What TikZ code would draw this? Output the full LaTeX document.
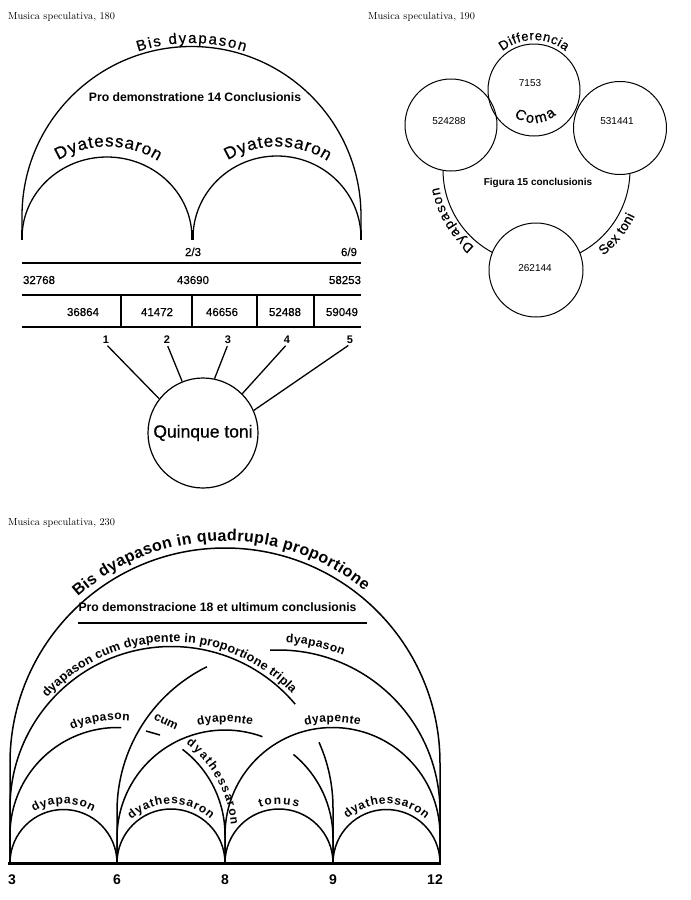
\documentclass[tikz,border=0pt]{standalone}
\usepackage{fontspec}
\newfontfamily\hv{Liberation Sans}
\newfontfamily\hvm[FakeBold=0.6]{Liberation Sans}
\usetikzlibrary{decorations.text}
\newcommand\fT{\fontsize{10.3}{12}\selectfont}
\newcommand\fBis{\hvm\fontsize{15}{17}\selectfont}
\newcommand\fPro{\hv\bfseries\fontsize{12.2}{14}\selectfont}
\newcommand\fDya{\hvm\fontsize{17}{19}\selectfont}
\newcommand\fNum{\hvm\fontsize{11.5}{13}\selectfont}
\newcommand\fIdx{\hv\bfseries\fontsize{11}{13}\selectfont}
\newcommand\fQ{\hvm\fontsize{17.5}{20}\selectfont}
\newcommand\fSm{\hv\fontsize{10}{12}\selectfont}
\newcommand\fDiff{\hvm\fontsize{13}{15}\selectfont}
\newcommand\fComa{\hvm\fontsize{14.5}{16}\selectfont}
\newcommand\fFig{\hv\bfseries\fontsize{10}{12}\selectfont}
\newcommand\fArc{\hvm\fontsize{13.5}{15}\selectfont}
\newcommand\fBig{\hv\bfseries\fontsize{16}{18}\selectfont}
\newcommand\fMid{\hv\bfseries\fontsize{12.5}{14}\selectfont}
\newcommand\fLbl{\hv\bfseries\fontsize{12}{14}\selectfont}
\newcommand\fDig{\hv\bfseries\fontsize{14}{16}\selectfont}
\begin{document}
\begin{tikzpicture}[x=1pt,y=-1pt,
  ln/.style={line width=1.3pt},
  rl/.style={line width=1pt},
  bl/.style={line width=1.5pt},
  ttl/.style={anchor=west,inner sep=0pt,font=\fT},
  txt/.style={inner sep=1pt},
  btxt/.style={inner sep=1pt,anchor=base},
  curved/.style={decorate,decoration={text along path,text={#1},text align=fit to path}},
  rc/.style={circle,draw,line width=1pt,inner sep=0pt}]
\useasboundingbox (0,0) rectangle (691,900);
\fill[white] (0,0) rectangle (691,900);

% ---------- titles
\node[ttl] (t1) at (8,17) {Musica speculativa, 180};
\node[ttl] (t2) at (368,17) {Musica speculativa, 190};
\node[ttl] (t3) at (8,523) {Musica speculativa, 230};

% ---------- top-left diagram
\draw[ln] (22,238) -- (22,216) arc[start angle=-180,end angle=0,radius=169.5] -- (361,238);
\draw[ln] (22,238) arc[start angle=-180,end angle=0,x radius=85,y radius=81];
\draw[ln] (193,238) arc[start angle=-180,end angle=0,x radius=84,y radius=82];
\draw[ln] (22,230) -- (22,240);
\draw[ln] (361,230) -- (361,240);
\draw[line width=2.5pt] (192.5,230) -- (192.5,240);

\path[curved={|\fBis|Bis dyapason}] ([shift={(191.5,216)}]-108:173) arc[start angle=-108,end angle=-72,radius=173];
\node[txt,font=\fPro] (pro1) at (195,97) {Pro demonstratione 14 Conclusionis};
\path[curved={|\fDya|Dyatessaron}] ([shift={(107.5,242)}]-121:95.5) arc[start angle=-121,end angle=-58,radius=95.5];
\path[curved={|\fDya|Dyatessaron}] ([shift={(277,242)}]-121:95.5) arc[start angle=-121,end angle=-58,radius=95.5];

\node[btxt,font=\fNum] (f23) at (193,256) {2/3};
\node[btxt,font=\fNum] (f69) at (349,256) {6/9};
\draw[ln] (22,263) -- (361,263);
\node[btxt,font=\fNum] (a1) at (39,284) {32768};
\node[btxt,font=\fNum] (a2) at (193,284) {43690};
\node[btxt,font=\fNum] (a3) at (345,284) {58253};
\draw[ln] (22,295) -- (361,295);
\draw[ln] (22,327) -- (361,327);
\foreach \xx in {121,192,257,314} \draw[ln] (\xx,295) -- (\xx,327);
\node[btxt,font=\fNum] (b1) at (83,316) {36864};
\node[btxt,font=\fNum] (b2) at (157,316) {41472};
\node[btxt,font=\fNum] (b3) at (222,316) {46656};
\node[btxt,font=\fNum] (b4) at (285,316) {52488};
\node[btxt,font=\fNum] (b5) at (342,316) {59049};

\node[btxt,font=\fIdx] (n1) at (106,343) {1};
\node[btxt,font=\fIdx] (n2) at (167,343) {2};
\node[btxt,font=\fIdx] (n3) at (228,343) {3};
\node[btxt,font=\fIdx] (n4) at (287,343) {4};
\node[btxt,font=\fIdx] (n5) at (350,343) {5};
\node[circle,draw,line width=1.2pt,inner sep=0pt,minimum size=110pt,font=\fQ] (q) at (203,433) {Quinque toni};
\draw[ln,shorten <=2pt] (n1.south) -- (q.142);
\draw[ln,shorten <=2pt] (n2.south) -- (q.112);
\draw[ln,shorten <=2pt] (n3.south) -- (q.78.5);
\draw[ln,shorten <=2pt] (n4.south) -- (q.45);
\draw[ln,shorten <=2pt] (n5.south) -- (q.24.7);

% ---------- top-right diagram
\draw[rl] (443,170) arc[start angle=180,end angle=0,radius=93.5];
\fill[white] (534,90) circle[radius=46] (451,125) circle[radius=46] (620,128) circle[radius=46.5] (536,270) circle[radius=47];
\node[rc,minimum size=92pt] (ctop) at (534,90) {};
\node[rc,minimum size=92pt] (cleft) at (451,125) {};
\node[rc,minimum size=93pt] (cright) at (620,128) {};
\node[rc,minimum size=94pt] (cbot) at (536,270) {};
\node[txt,font=\fSm] (v7153) at (530,83) {7153};
\node[txt,font=\fSm] (v524) at (449,121) {524288};
\node[txt,font=\fSm] (v531) at (617,121) {531441};
\node[txt,font=\fSm] (v262) at (535,268) {262144};
\node[txt,font=\fFig] (fig) at (538,183) {Figura 15 conclusionis};
\path[curved={|\fDiff|Differencia}] ([shift={(534,90)}]-129:50) arc[start angle=-129,end angle=-51,radius=50];
\path[curved={|\fComa|Coma}] ([shift={(534,90)}]-233:33) arc[start angle=-233,end angle=-312,radius=33];
\path[curved={|\fArc|Dyapason}] ([shift={(536.5,170)}]-231:99) arc[start angle=-231,end angle=-190,radius=99];
\path[curved={|\fArc|Sex toni}] ([shift={(536.5,170)}]-308:108.5) arc[start angle=-308,end angle=-335,radius=108.5];

% ---------- bottom diagram
\draw[bl] (10,863) -- (10,763) arc[start angle=-180,end angle=0,radius=215] -- (440,863);
\draw[bl] (10,863) -- (10,808) arc[start angle=-180,end angle=-40,radius=161.5];
\draw[bl] ([shift={(171.5,808)}]-24:161.5) arc[start angle=-24,end angle=0,radius=161.5] -- (333,863);
\draw[bl] (10,863) -- (10,835) arc[start angle=-180,end angle=-88,radius=107.5];
\draw[bl] ([shift={(117.5,835)}]-52.8:107.5) arc[start angle=-52.8,end angle=0,radius=107.5] -- (225,863);
\draw[bl] (117,863) -- (117,838) arc[start angle=-180,end angle=-69.7,radius=108];
\draw[bl] ([shift={(225,838)}]-50.7:108) arc[start angle=-50.7,end angle=0,radius=108] -- (333,863);
\draw[bl] (225,863) -- (225,835) arc[start angle=-180,end angle=0,radius=107.5] -- (440,863);
\draw[bl] (117,863) -- (117,811.5) arc[start angle=-180,end angle=-116.3,radius=161.5];
\draw[bl] ([shift={(278.5,811.5)}]-93:161.5) arc[start angle=-93,end angle=0,radius=161.5] -- (440,863);
\draw[bl] (10,863) arc[start angle=-180,end angle=0,radius=53.5];
\draw[bl] (117,863) arc[start angle=-180,end angle=0,radius=54];
\draw[bl] (225,863) arc[start angle=-180,end angle=0,radius=54];
\draw[bl] (333,863) arc[start angle=-180,end angle=0,radius=53.5];
\draw[line width=3pt] (8,863) -- (441,863);
\draw[bl] (146,731) -- (160,735);
\draw[bl] (78,623) -- (367,623);

\node[txt,font=\fPro] (pro2) at (217.5,607) {Pro demonstracione 18 et ultimum conclusionis};
\path[curved={|\fBig|Bis dyapason in quadrupla proportione}] ([shift={(225,763)}]-131.5:222) arc[start angle=-131.5,end angle=-51,radius=222];
\path[curved={|\fMid|dyapason cum dyapente in proportione tripla}] ([shift={(171.5,808)}]-138.5:166) arc[start angle=-138.5,end angle=-43.5,radius=166];
\path[curved={|\fLbl|dyapason}] ([shift={(278.5,811.5)}]-87.5:169) arc[start angle=-87.5,end angle=-67.5,radius=169];
\path[curved={|\fLbl|dyapason}] ([shift={(117.5,835)}]-113.5:115) arc[start angle=-113.5,end angle=-84,radius=115];
\path[curved={|\fLbl|dyapente}] ([shift={(225,838)}]-103.5:116) arc[start angle=-103.5,end angle=-76.5,radius=116];
\path[curved={|\fLbl|dyapente}] ([shift={(332.5,835)}]-104:113) arc[start angle=-104,end angle=-76,radius=113];
\path[curved={|\fLbl|dyathessaron}] ([shift={(117.5,835)}]-53:114) arc[start angle=-53,end angle=-5,radius=114];
\node[rotate=-25,font=\fLbl,inner sep=0pt] (cum) at (166,722) {cum};
\path[curved={|\fLbl|dyapason}] ([shift={(63.5,863)}]-120:59) arc[start angle=-120,end angle=-60,radius=59];
\path[curved={|\fLbl|dyathessaron}] ([shift={(171,863)}]-132:59) arc[start angle=-132,end angle=-48,radius=59];
\path[curved={|\fLbl|tonus}] ([shift={(279,863)}]-109:59) arc[start angle=-109,end angle=-71,radius=59];
\path[curved={|\fLbl|dyathessaron}] ([shift={(386.5,863)}]-131.6:59) arc[start angle=-131.6,end angle=-48.4,radius=59];

\node[txt,font=\fDig] (d3) at (12,880) {3};
\node[txt,font=\fDig] (d6) at (117,880) {6};
\node[txt,font=\fDig] (d8) at (225,880) {8};
\node[txt,font=\fDig] (d9) at (333,880) {9};
\node[txt,font=\fDig] (d12) at (435,880) {12};
\end{tikzpicture}
\end{document}
